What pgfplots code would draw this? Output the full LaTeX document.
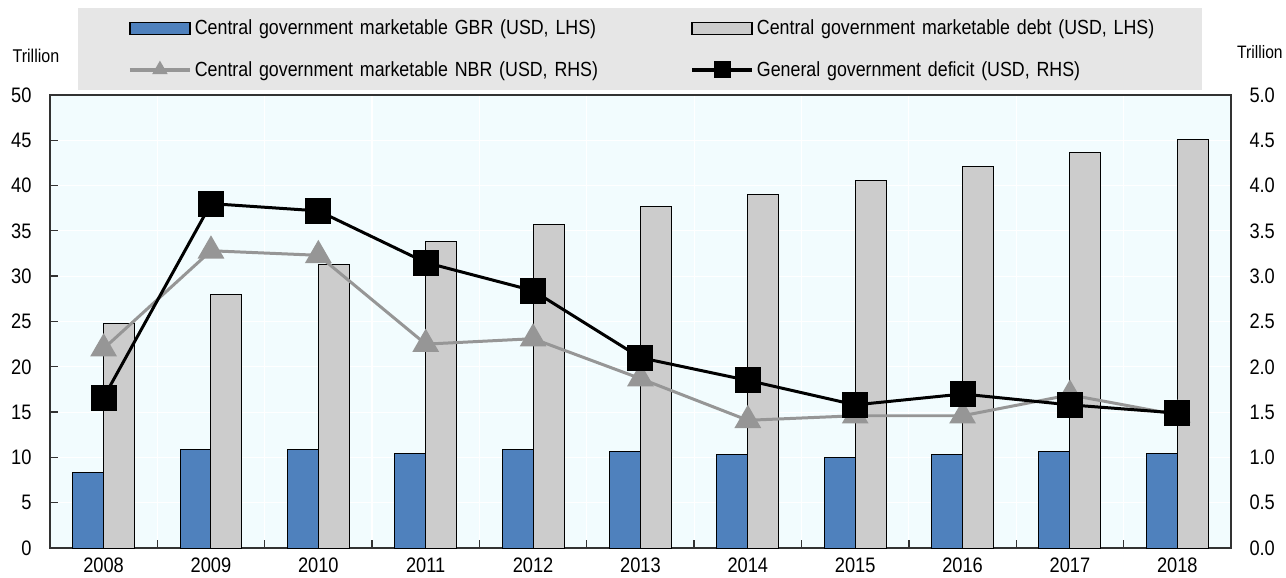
\documentclass[border=0pt]{standalone}
\usepackage{pgfplots}
\pgfplotsset{compat=1.18}
\usepackage{pgfplotstable}
\usepackage{fontspec}
\setmainfont{Liberation Sans}[FakeStretch=0.87]
\definecolor{barblue}{RGB}{79,129,189}
\definecolor{bargray}{RGB}{204,204,204}
\definecolor{linegray}{RGB}{150,150,150}
\definecolor{bgcol}{RGB}{242,252,254}
\definecolor{leggray}{RGB}{230,230,230}
\definecolor{axcol}{RGB}{50,50,50}

\pgfplotstableread{
x gbr debt nbr def
0 8.3 24.8 2.20 1.66
1 10.9 28.0 3.28 3.80
2 10.9 31.3 3.23 3.72
3 10.4 33.8 2.25 3.15
4 10.9 35.7 2.31 2.84
5 10.7 37.7 1.87 2.10
6 10.3 39.0 1.41 1.85
7 10.0 40.5 1.46 1.58
8 10.3 42.1 1.46 1.70
9 10.7 43.6 1.69 1.58
10 10.4 45.1 1.47 1.49
}\datatable

\begin{document}
\begin{tikzpicture}
\pgfplotsset{
  common/.style={
    scale only axis, width=1183pt, height=454pt,
    xmin=-0.5, xmax=10.5,
    font=\fontsize{21}{24}\selectfont,
    tick label style={font=\fontsize{21}{24}\selectfont},
    /pgf/number format/assume math mode=true,
    axis line style={draw=axcol, line width=1.6pt},
  },
  legimg/.style={legend image code/.code={\path[draw=none,fill=none] (-52pt,0pt) rectangle (0pt,0.1pt);
      \draw[black, line width=1.6pt, fill=#1] (0pt,-6pt) rectangle (60pt,6pt);}},
  legline/.style={legend image code/.code={\path[draw=none,fill=none] (-52pt,0pt) rectangle (0pt,0.1pt);
      \draw[##1, line width=4pt] (0pt,0pt) -- (60pt,0pt);
      \draw[##1, mark size=#1] plot coordinates {(30pt,0pt)};}},
}
\begin{axis}[common, name=ax,
  ymin=0, ymax=50, ytick={0,5,...,50},
  axis background/.style={fill=bgcol},
  xtick={0.5,1.5,...,9.5},
  xticklabels={},
  extra x ticks={0,...,10},
  extra x tick labels={2008,2009,2010,2011,2012,2013,2014,2015,2016,2017,2018},
  extra x tick style={grid=none, major tick length=0pt},
  xmajorgrids=true, ymajorgrids=true,
  grid style={white, line width=1.2pt},
  tick align=inside,
  xtick pos=bottom, ytick pos=left,
  major tick length=8pt,
  tick style={axcol, line width=1.3pt},
  x tick label style={yshift=-6pt},
  y tick label style={xshift=-15pt},
]
\addplot[ybar, bar width=31pt, bar shift=-15.5pt, fill=barblue, draw=black, line width=1pt] table[x=x, y=gbr] {\datatable};
\addplot[ybar, bar width=31pt, bar shift=15.5pt, fill=bargray, draw=black, line width=1pt] table[x=x, y=debt] {\datatable};
\end{axis}
\begin{axis}[common,
  ymin=0, ymax=5, ytick={0,0.5,...,5},
  axis x line=none, axis y line*=right,
  major tick length=0pt,
  y tick label style={/pgf/number format/fixed, /pgf/number format/fixed zerofill, /pgf/number format/precision=1, xshift=15pt},
  legend columns=2,
  legend cell align=left,
  legend style={at={(axis description cs:0,1)}, anchor=north west,
    xshift=28pt, yshift=87pt,
    fill=leggray, draw=none, inner xsep=0pt, inner ysep=10pt,
    row sep=21pt,
    font=\fontsize{20.5}{23}\selectfont,
    nodes={text width=443pt, inner xsep=3pt}},
]
\addlegendimage{legimg=barblue}
\addlegendentry{Central government marketable GBR (USD, LHS)}
\addlegendimage{legimg=bargray}
\addlegendentry{Central government marketable debt (USD, LHS)}
\addplot[linegray, line width=3pt, mark=triangle*, mark size=12.5pt, mark options={solid}, legline=6pt] table[x=x, y=nbr] {\datatable};
\addlegendentry{Central government marketable NBR (USD, RHS)}
\addplot[black, line width=3pt, mark=square*, mark size=11.5pt, legline=7pt] table[x=x, y=def] {\datatable};
\addlegendentry{General government deficit (USD, RHS)}
\end{axis}
\node[font=\fontsize{18.5}{20}\selectfont, anchor=center] at ([xshift=-14pt,yshift=39pt]ax.north west) {Trillion};
\node[font=\fontsize{18}{20}\selectfont, anchor=center] at ([xshift=29pt,yshift=43pt]ax.north east) {Trillion};
\path ([xshift=-50pt,yshift=-29pt]ax.south west) rectangle ++(1286pt,578pt);
\end{tikzpicture}
\end{document}
